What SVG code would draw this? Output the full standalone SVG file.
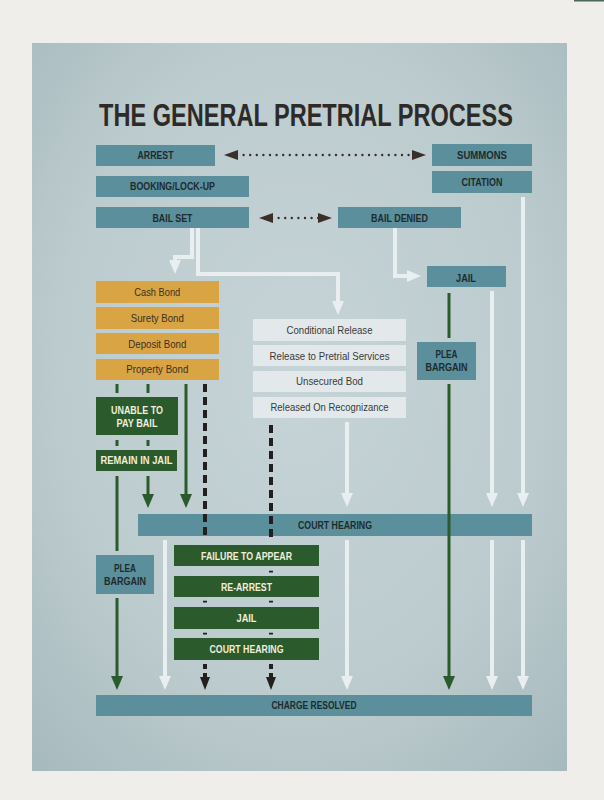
<svg xmlns="http://www.w3.org/2000/svg" width="604" height="800" viewBox="0 0 604 800">
<defs>
<radialGradient id="panelGrad" cx="0.5" cy="0.45" r="0.75">
<stop offset="0" stop-color="#c6d4d7"/>
<stop offset="0.6" stop-color="#bccbce"/>
<stop offset="1" stop-color="#a6b9bd"/>
</radialGradient>
<marker id="mDark" markerUnits="userSpaceOnUse" viewBox="0 0 14 10" markerWidth="14" markerHeight="10" refX="1" refY="5" orient="auto-start-reverse">
<path d="M0,0 L14,5 L0,10 Z" fill="#3b2f2a"/>
</marker>
<marker id="mWhite" markerUnits="userSpaceOnUse" viewBox="0 0 14 12" markerWidth="14" markerHeight="12" refX="1" refY="6" orient="auto">
<path d="M0,0 L14,6 L0,12 Z" fill="#e9eef0"/>
</marker>
<marker id="mGreen" markerUnits="userSpaceOnUse" viewBox="0 0 14 12" markerWidth="14" markerHeight="12" refX="1" refY="6" orient="auto">
<path d="M0,0 L14,6 L0,12 Z" fill="#2b5a2c"/>
</marker>
<marker id="mBlack" markerUnits="userSpaceOnUse" viewBox="0 0 13 10" markerWidth="13" markerHeight="10" refX="1" refY="5" orient="auto">
<path d="M0,0 L13,5 L0,10 Z" fill="#231f1e"/>
</marker>
</defs>
<style>
text{font-family:"Liberation Sans",Arial,sans-serif;font-size:11px;text-anchor:middle}
.teal{fill:#5b8f9b}
.teal-t{fill:#1f2a2d;font-weight:bold}
.bond{fill:#d9a443}
.bond-t{fill:#3b3122}
.light{fill:#e3e9ea}
.light-t{fill:#3a3a3a}
.green{fill:#2b5a2c}
.green-t{fill:#f1eedb;font-weight:bold}
.title{font-size:26px;font-weight:bold;fill:#2e2a27}
.dot{fill:none;stroke:#3b2f2a;stroke-width:2.4;stroke-linecap:round;stroke-dasharray:0 6.6}
.wl{fill:none;stroke:#e9eef0;stroke-width:4}
.gl{fill:none;stroke:#2b5a2c;stroke-width:3}
.bl{fill:none;stroke:#231f1e;stroke-width:4;stroke-dasharray:8 5}
.bs{fill:none;stroke:#231f1e;stroke-width:4}
</style>
<rect x="0" y="0" width="604" height="800" fill="#efeeeb"/>
<rect x="574" y="0" width="30" height="1.5" fill="#4a6656"/>
<rect x="32" y="43" width="535" height="728" fill="url(#panelGrad)"/>
<text class="title" transform="translate(306,126) scale(1,1.235)" x="0" y="0" textLength="414" lengthAdjust="spacingAndGlyphs">THE GENERAL PRETRIAL PROCESS</text>

<g id="connectors-under">
<path class="wl" d="M192,228 V257 H175 V261" marker-end="url(#mWhite)"/>
<path class="wl" d="M198,228 V274 H338 V302" marker-end="url(#mWhite)"/>
<path class="wl" d="M395,228 V276 H408" marker-end="url(#mWhite)"/>
<path class="wl" d="M492,291 V494" marker-end="url(#mWhite)"/>
<path class="wl" d="M523,197 V494" marker-end="url(#mWhite)"/>
<path class="wl" d="M347,422 V494" marker-end="url(#mWhite)"/>
<path class="wl" d="M165,540 V677" marker-end="url(#mWhite)"/>
<path class="wl" d="M347,540 V677" marker-end="url(#mWhite)"/>
<path class="wl" d="M492,540 V677" marker-end="url(#mWhite)"/>
<path class="wl" d="M523,540 V677" marker-end="url(#mWhite)"/>
<path class="dot" d="M237,155 H413" marker-start="url(#mDark)" marker-end="url(#mDark)"/>
<path class="dot" d="M272,218 H319" marker-start="url(#mDark)" marker-end="url(#mDark)"/>
<path class="gl" d="M117,384 V393 M148,384 V393 M117,440 V446 M148,440 V446"/>
<path class="gl" d="M117,476 V551"/>
<path class="gl" d="M117,598 V677" marker-end="url(#mGreen)"/>
<path class="gl" d="M148,476 V495" marker-end="url(#mGreen)"/>
<path class="gl" d="M186,384 V495" marker-end="url(#mGreen)"/>
<path class="gl" d="M449,293 V338"/>
</g>

<g id="arrest"><rect class="teal" x="96" y="145" width="119" height="21"/><text class="teal-t" x="155.5" y="159" textLength="36" lengthAdjust="spacingAndGlyphs">ARREST</text></g>
<g id="summons"><rect class="teal" x="432" y="144" width="100" height="22"/><text class="teal-t" x="482" y="159" textLength="50" lengthAdjust="spacingAndGlyphs">SUMMONS</text></g>
<g id="citation"><rect class="teal" x="432" y="171" width="100" height="22"/><text class="teal-t" x="482" y="186" textLength="41" lengthAdjust="spacingAndGlyphs">CITATION</text></g>
<g id="booking"><rect class="teal" x="96" y="176" width="153" height="21"/><text class="teal-t" x="172.5" y="190" textLength="85" lengthAdjust="spacingAndGlyphs">BOOKING/LOCK-UP</text></g>
<g id="bail-set"><rect class="teal" x="96" y="207" width="153" height="21"/><text class="teal-t" x="172.5" y="222" textLength="40" lengthAdjust="spacingAndGlyphs">BAIL SET</text></g>
<g id="bail-denied"><rect class="teal" x="338" y="207" width="123" height="21"/><text class="teal-t" x="399.5" y="222" textLength="57" lengthAdjust="spacingAndGlyphs">BAIL DENIED</text></g>
<g id="jail-right"><rect class="teal" x="427" y="266" width="79" height="21"/><text class="teal-t" x="466" y="281.5" textLength="20" lengthAdjust="spacingAndGlyphs">JAIL</text></g>

<g id="cash-bond"><rect class="bond" x="96" y="281" width="123" height="22"/><text class="bond-t" x="157.3" y="296" textLength="46" lengthAdjust="spacingAndGlyphs">Cash Bond</text></g>
<g id="surety-bond"><rect class="bond" x="96" y="307" width="123" height="22"/><text class="bond-t" x="157.3" y="322" textLength="53" lengthAdjust="spacingAndGlyphs">Surety Bond</text></g>
<g id="deposit-bond"><rect class="bond" x="96" y="333" width="123" height="21"/><text class="bond-t" x="157.3" y="347.5" textLength="58" lengthAdjust="spacingAndGlyphs">Deposit Bond</text></g>
<g id="property-bond"><rect class="bond" x="96" y="359" width="123" height="21"/><text class="bond-t" x="157.3" y="373" textLength="62" lengthAdjust="spacingAndGlyphs">Property Bond</text></g>

<g id="conditional-release"><rect class="light" x="253" y="319" width="153" height="22"/><text class="light-t" x="329.5" y="334.3" textLength="86" lengthAdjust="spacingAndGlyphs">Conditional Release</text></g>
<g id="release-pretrial"><rect class="light" x="253" y="345" width="153" height="21"/><text class="light-t" x="329.5" y="360" textLength="120" lengthAdjust="spacingAndGlyphs">Release to Pretrial Services</text></g>
<g id="unsecured-bod"><rect class="light" x="253" y="371" width="153" height="21"/><text class="light-t" x="329.5" y="385.3" textLength="67" lengthAdjust="spacingAndGlyphs">Unsecured Bod</text></g>
<g id="released-recognizance"><rect class="light" x="253" y="397" width="153" height="21"/><text class="light-t" x="329.5" y="411" textLength="118" lengthAdjust="spacingAndGlyphs">Released On Recognizance</text></g>

<g id="plea-bargain-right"><rect class="teal" x="417" y="342" width="59" height="38"/><text class="teal-t" x="446.5" y="358.3" textLength="22" lengthAdjust="spacingAndGlyphs">PLEA</text><text class="teal-t" x="446.5" y="371.3" textLength="42" lengthAdjust="spacingAndGlyphs">BARGAIN</text></g>

<g id="unable-to-pay"><rect class="green" x="96" y="397" width="82" height="38"/><text class="green-t" x="137" y="413.7" textLength="52" lengthAdjust="spacingAndGlyphs">UNABLE TO</text><text class="green-t" x="137" y="427" textLength="41" lengthAdjust="spacingAndGlyphs">PAY BAIL</text></g>
<g id="remain-in-jail"><rect class="green" x="96" y="450" width="81" height="21"/><text class="green-t" x="136.5" y="464.3" textLength="72" lengthAdjust="spacingAndGlyphs">REMAIN IN JAIL</text></g>

<g id="court-hearing"><rect class="teal" x="138" y="514" width="394" height="22"/><text class="teal-t" x="335" y="529" textLength="74" lengthAdjust="spacingAndGlyphs">COURT HEARING</text></g>

<g id="plea-bargain-left"><rect class="teal" x="96" y="555" width="58" height="39"/><text class="teal-t" x="125" y="571.7" textLength="22" lengthAdjust="spacingAndGlyphs">PLEA</text><text class="teal-t" x="125" y="584.7" textLength="42" lengthAdjust="spacingAndGlyphs">BARGAIN</text></g>

<g id="failure-to-appear"><rect class="green" x="174" y="545" width="145" height="21"/><text class="green-t" x="246.5" y="560" textLength="91" lengthAdjust="spacingAndGlyphs">FAILURE TO APPEAR</text></g>
<g id="re-arrest"><rect class="green" x="174" y="576" width="145" height="21"/><text class="green-t" x="246.5" y="591" textLength="51" lengthAdjust="spacingAndGlyphs">RE-ARREST</text></g>
<g id="jail-green"><rect class="green" x="174" y="607" width="145" height="22"/><text class="green-t" x="246.5" y="622" textLength="20" lengthAdjust="spacingAndGlyphs">JAIL</text></g>
<g id="court-hearing-green"><rect class="green" x="174" y="638" width="145" height="22"/><text class="green-t" x="246.5" y="653" textLength="74" lengthAdjust="spacingAndGlyphs">COURT HEARING</text></g>

<g id="charge-resolved"><rect class="teal" x="96" y="695" width="436" height="21"/><text class="teal-t" x="314" y="709.3" textLength="85" lengthAdjust="spacingAndGlyphs">CHARGE RESOLVED</text></g>

<g id="connectors-over">
<path class="gl" d="M449,384 V677" marker-end="url(#mGreen)"/>
<path class="bl" d="M205,384 V537"/>
<path class="bl" d="M271,425 V537"/>
<path class="bs" d="M271,570.8 V572.6 M205,600.8 V602.6 M271,600.8 V602.6 M205,632.8 V634.6 M271,632.8 V634.6"/>
<path class="bl" d="M205,664 V678" style="stroke-dasharray:5 4" marker-end="url(#mBlack)"/>
<path class="bl" d="M271,664 V678" style="stroke-dasharray:5 4" marker-end="url(#mBlack)"/>
</g>
</svg>
